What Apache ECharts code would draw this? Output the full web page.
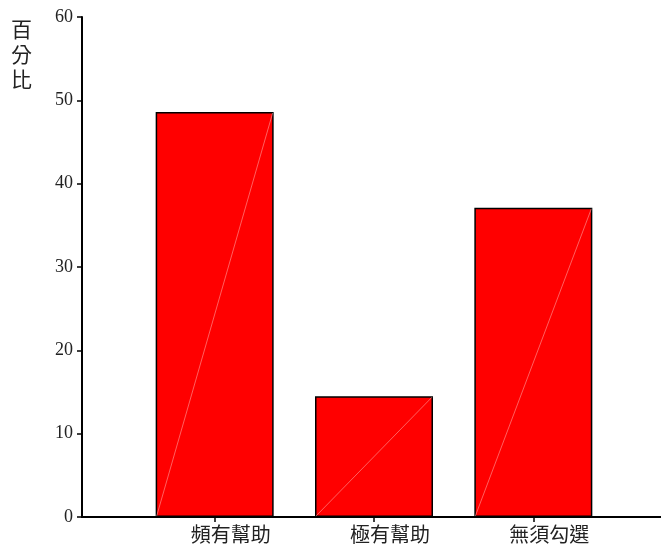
<!DOCTYPE html>
<html>
<head>
<meta charset="utf-8">
<script src="https://cdn.jsdelivr.net/npm/echarts@6/dist/echarts.min.js"></script>
<style>html,body{margin:0;padding:0;background:#fff;}#c{width:661px;height:548px;}</style>
</head>
<body>
<div id="c"></div>
<script>
const categories = ['頻有幫助', '極有幫助', '無須勾選'];
const percentValues = [48.6, 14.5, 37.1];
const yTicks = { min: 0, max: 60, interval: 10 };
const yTitle = '百分比';

const BAR_W = 118;
const chart = echarts.init(document.getElementById('c'), null, { renderer: 'canvas' });
const serif = '"Liberation Serif", "DejaVu Serif", serif';
const cjk = '"Noto Sans CJK TC", "Noto Sans CJK SC", sans-serif';

chart.setOption({
  animation: false,
  backgroundColor: '#fff',
  grid: [
    { left: 82, right: 0, top: 17, bottom: 31 },
    { left: 135, right: 48, top: 17, bottom: 31 }
  ],
  xAxis: [
    { gridIndex: 0, type: 'value', min: 0, max: 1, axisLine: { show: true, onZero: false, lineStyle: { color: '#000', width: 2 } },
      axisTick: { show: false }, axisLabel: { show: false }, splitLine: { show: false } },
    { gridIndex: 0, type: 'value', position: 'top', min: 0, max: 1, axisLine: { show: true, lineStyle: { color: '#000', width: 2 } },
      axisTick: { show: false }, axisLabel: { show: false }, splitLine: { show: false } },
    { gridIndex: 1, type: 'category', data: categories, axisLine: { show: false },
      axisTick: { show: true, alignWithLabel: true, length: 5, lineStyle: { color: '#000', width: 1.5 } },
      axisLabel: { fontFamily: cjk, fontSize: 20, color: '#222', margin: 7, padding: [0, 0, 0, 32] } }
  ],
  yAxis: [
    { gridIndex: 0, type: 'value', min: yTicks.min, max: yTicks.max, interval: yTicks.interval,
      axisLine: { show: true, lineStyle: { color: '#000', width: 2 } },
      axisTick: { show: true, length: 5, lineStyle: { color: '#000', width: 1.5 } },
      axisLabel: { fontFamily: serif, fontSize: 18, color: '#222', margin: 9 },
      splitLine: { show: false } },
    { gridIndex: 1, type: 'value', min: yTicks.min, max: yTicks.max, interval: yTicks.interval, show: false }
  ],
  graphic: [
    { type: 'text', left: 11, top: 17, style: { text: yTitle.split('').join('\n'), font: '21px ' + cjk, fill: '#222', lineHeight: 25 } }
  ],
  series: [
    { type: 'bar', xAxisIndex: 2, yAxisIndex: 1, data: percentValues, barWidth: BAR_W,
      itemStyle: { color: '#ff0000', borderColor: '#000', borderWidth: 1.5 } },
    { type: 'custom', xAxisIndex: 2, yAxisIndex: 1, z: 5, silent: true,
      data: percentValues.map((v, i) => [i, v]),
      renderItem: function (params, api) {
        const base = api.coord([api.value(0), 0]);
        const top = api.coord([api.value(0), api.value(1)]);
        const h = BAR_W / 2 - 1;
        return { type: 'line', shape: { x1: base[0] - h, y1: base[1] - 1, x2: base[0] + h, y2: top[1] + 1 },
          style: { stroke: 'rgba(255,200,200,0.8)', lineWidth: 0.6 } };
      } }
  ]
});
</script>
</body>
</html>
